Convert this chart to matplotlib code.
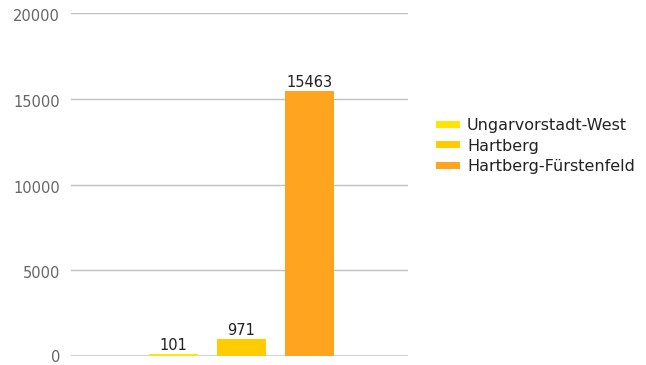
import matplotlib
matplotlib.use("Agg")
import matplotlib.pyplot as plt
import matplotlib.transforms as mtransforms
from matplotlib.patches import Patch

categories = ["Ungarvorstadt-West", "Hartberg", "Hartberg-Fürstenfeld"]
values = [101, 971, 15463]
colors = ["#FFE500", "#FFCC00", "#FFA41F"]
yticks = [0, 5000, 10000, 15000, 20000]

fig = plt.figure(figsize=(6.46, 3.65), dpi=100)
ax = fig.add_axes([0.110, 0.0247, 0.522, 0.9393])

x = [0, 1, 2]
bars = ax.bar(x, values, width=0.72, color=colors, zorder=3)
for xi, v in zip(x, values):
    ax.text(xi, v + 80, str(v), ha="center", va="bottom", fontsize=10.5, color="#222222", zorder=4)

ax.set_xlim(-1.5, 3.45)
ax.set_ylim(0, 20000)
ax.set_yticks(yticks)
ax.set_yticklabels([str(t) for t in yticks])
ax.tick_params(axis="y", length=0, pad=8, labelsize=10.5, labelcolor="#666666")
ax.tick_params(axis="x", length=0, labelbottom=False)
offset = mtransforms.ScaledTranslation(0, -2 / 100, fig.dpi_scale_trans)
for t, lbl in zip(yticks, ax.get_yticklabels()):
    if t != 0:
        lbl.set_transform(lbl.get_transform() + offset)
ax.yaxis.grid(True, color="#c0c0c0", linewidth=1, zorder=0)
for s in ax.spines.values():
    s.set_visible(False)
ax.axhline(0, color="#ccd0e0", linewidth=2, zorder=2)

handles = [Patch(facecolor=c, edgecolor="none") for c in colors]
fig.legend(handles, categories, loc="center left", bbox_to_anchor=(0.652, 0.6),
           frameon=False, fontsize=11.5, handlelength=1.55, handleheight=0.3,
           handletextpad=0.42, labelspacing=0.33, labelcolor="#222222")

fig.savefig("out.png", dpi=100)
